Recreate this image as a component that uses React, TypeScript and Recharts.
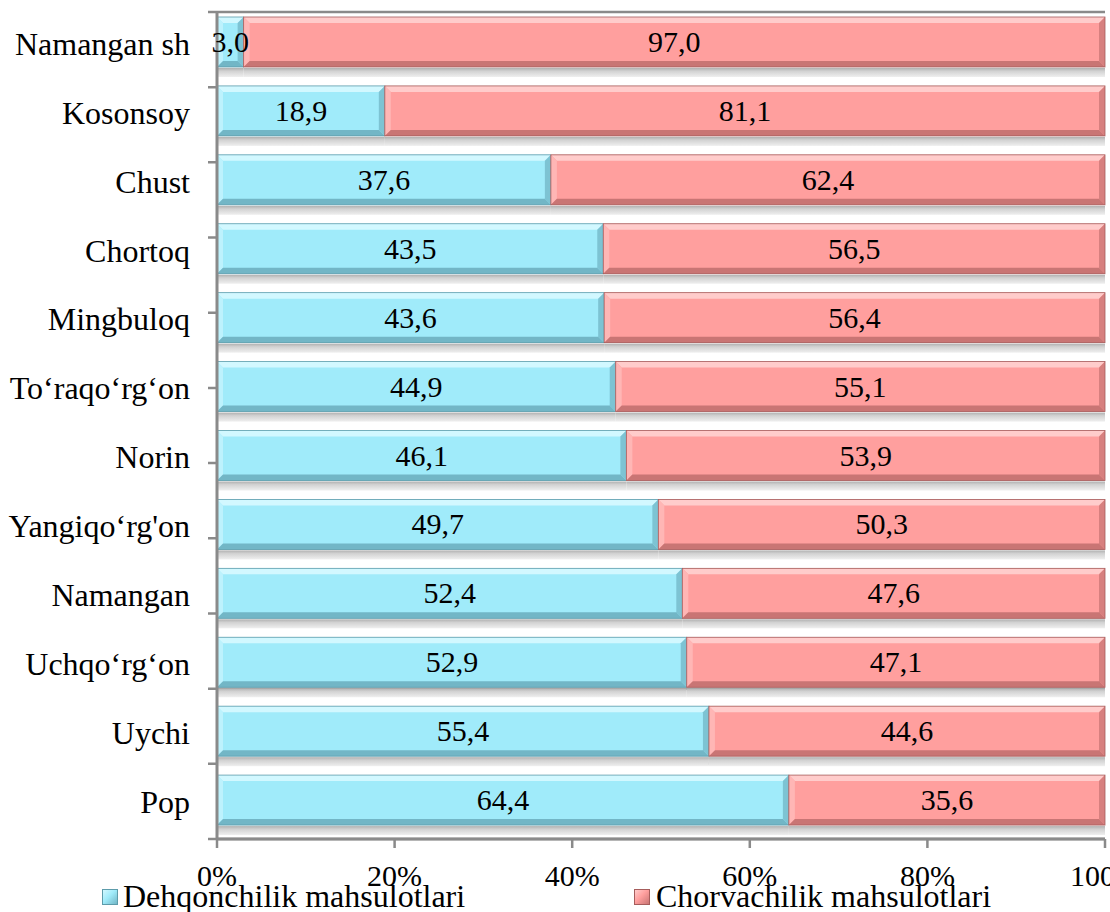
import React from 'react'
import {
  BarChart,
  Bar,
  XAxis,
  YAxis,
  CartesianGrid,
  LabelList,
  Legend
} from 'recharts'

const categories = [
  'Namangan sh',
  'Kosonsoy',
  'Chust',
  'Chortoq',
  'Mingbuloq',
  'To‘raqo‘rg‘on',
  'Norin',
  'Yangiqo‘rg\'on',
  'Namangan',
  'Uchqo‘rg‘on',
  'Uychi',
  'Pop'
]
const dehqonchilik = [3.0, 18.9, 37.6, 43.5, 43.6, 44.9, 46.1, 49.7, 52.4, 52.9, 55.4, 64.4]
const chorvachilik = [97.0, 81.1, 62.4, 56.5, 56.4, 55.1, 53.9, 50.3, 47.6, 47.1, 44.6, 35.6]
const xTicks = [0, 20, 40, 60, 80, 100]
const seriesNames = ['Dehqonchilik mahsulotlari', 'Chorvachilik mahsulotlari']

const data = categories.map((name, i) => ({
  name,
  dehqon: dehqonchilik[i],
  chorva: chorvachilik[i]
}))
const rowBounds = [...categories.map((_, i) => i), categories.length]

const FONT = 'Liberation Serif, Times New Roman, serif'
const GRID = '#8a8a8a'

const palette: Record<string, { main: string, light: string, side: string, dark: string, edge: string }> = {
  dehqon: { main: '#a0ebfa', light: '#d2f8ff', side: '#bdf2fd', dark: '#72b6c6', edge: '#5d9cab' },
  chorva: { main: '#ff9f9e', light: '#ffcccb', side: '#ffb6b5', dark: '#c97574', edge: '#a65d5c' }
}

const BAR_H = 50
const SHADOW_H = 9

const BevelBar = (props: any) => {
  const { x, y, width, dataKey } = props
  const c = palette[dataKey]
  const h = BAR_H
  const w = width
  const d = Math.min(6, w / 2)
  return (
    <g>
      <rect x={x} y={y + h + 1} width={w} height={SHADOW_H} fill="url(#floorGrad)" />
      <rect x={x} y={y} width={w} height={h} fill={c.main} />
      <polygon points={`${x},${y} ${x + w},${y} ${x + w - d},${y + d} ${x + d},${y + d}`} fill={c.light} />
      <polygon points={`${x},${y} ${x + d},${y + d} ${x + d},${y + h - d} ${x},${y + h}`} fill={c.side} />
      <polygon points={`${x + w},${y} ${x + w - d},${y + d} ${x + w - d},${y + h - d} ${x + w},${y + h}`} fill={c.dark} opacity={0.75} />
      <polygon points={`${x},${y + h} ${x + w},${y + h} ${x + w - d},${y + h - d} ${x + d},${y + h - d}`} fill={c.dark} />
      <rect x={x} y={y} width={w} height={h} fill="none" stroke={c.edge} strokeWidth={0.8} />
    </g>
  )
}

const renderValue = (props: any) => {
  const { x, y, width, value } = props
  return (
    <text
      x={x + width / 2}
      y={y + BAR_H / 2 + 10}
      textAnchor="middle"
      fontFamily={FONT}
      fontSize={30}
      fill="#000"
    >
      {Number(value).toFixed(1).replace('.', ',')}
    </text>
  )
}

const legendPos = [
  { box: 102, text: 123 },
  { box: 634, text: 656 }
]

const renderLegend = () => (
  <div style={{ position: 'relative', width: 1110, height: 32, fontFamily: FONT, fontSize: 32, color: '#000' }}>
    {seriesNames.map((name, i) => {
      const c = palette[i === 0 ? 'dehqon' : 'chorva']
      return (
        <React.Fragment key={name}>
          <div
            style={{
              position: 'absolute',
              left: legendPos[i].box,
              top: 9,
              width: 16,
              height: 16,
              boxSizing: 'border-box',
              background: `linear-gradient(135deg, ${c.light} 0%, ${c.main} 45%, ${c.dark} 100%)`,
              border: `1px solid ${c.edge}`
            }}
          />
          <div style={{ position: 'absolute', left: legendPos[i].text, top: 0, lineHeight: '32px', whiteSpace: 'nowrap' }}>
            {name}
          </div>
        </React.Fragment>
      )
    })}
  </div>
)

const App: React.FC = () => {
  return (
    <div style={{ position: 'absolute', left: 0, top: 0, width: 1110, height: 912, background: '#fff', overflow: 'hidden' }}>
      <BarChart
        layout="vertical"
        width={1110}
        height={912}
        data={data}
        margin={{ top: 12, right: 5, bottom: 0, left: 0 }}
        barSize={58}
      >
        <defs>
          <linearGradient id="floorGrad" x1="0" y1="0" x2="0" y2="1">
            <stop offset="0%" stopColor="#b0b0b0" />
            <stop offset="35%" stopColor="#d2d2d2" />
            <stop offset="100%" stopColor="#efefef" />
          </linearGradient>
        </defs>
        <CartesianGrid
          yAxisId="grid"
          vertical={false}
          horizontal={(p: any) => (
            <line
              key={p.key}
              x1={p.x1 - 9}
              x2={p.x2}
              y1={p.y1}
              y2={p.y2}
              stroke={GRID}
              strokeWidth={2.5}
            />
          )}
        />
        <XAxis
          type="number"
          domain={[0, 100]}
          ticks={xTicks}
          interval={0}
          tickFormatter={(v) => `${v}%`}
          height={73}
          axisLine={{ stroke: GRID, strokeWidth: 3 }}
          tickLine={{ stroke: GRID, strokeWidth: 2.5 }}
          tickSize={9}
          tickMargin={17}
          tick={{ fontFamily: FONT, fontSize: 30, fill: '#000' }}
        />
        <YAxis
          yAxisId="cat"
          type="category"
          dataKey="name"
          width={217}
          interval={0}
          tickLine={false}
          tickSize={0}
          tickMargin={27}
          axisLine={{ stroke: GRID, strokeWidth: 3 }}
          tick={{ fontFamily: FONT, fontSize: 32, fill: '#000', dy: -3 }}
        />
        <YAxis
          yAxisId="grid"
          type="number"
          domain={[0, categories.length]}
          ticks={rowBounds}
          hide
        />
        <Bar yAxisId="cat" dataKey="dehqon" stackId="a" shape={BevelBar} isAnimationActive={false}>
          <LabelList dataKey="dehqon" content={renderValue} />
        </Bar>
        <Bar yAxisId="cat" dataKey="chorva" stackId="a" shape={BevelBar} isAnimationActive={false}>
          <LabelList dataKey="chorva" content={renderValue} />
        </Bar>
        <Legend
          layout="vertical"
          align="center"
          verticalAlign="middle"
          content={renderLegend}
          wrapperStyle={{ position: 'absolute', left: 0, top: 880, width: 1110, height: 32, margin: 0 }}
        />
      </BarChart>
    </div>
  )
}

export default App
